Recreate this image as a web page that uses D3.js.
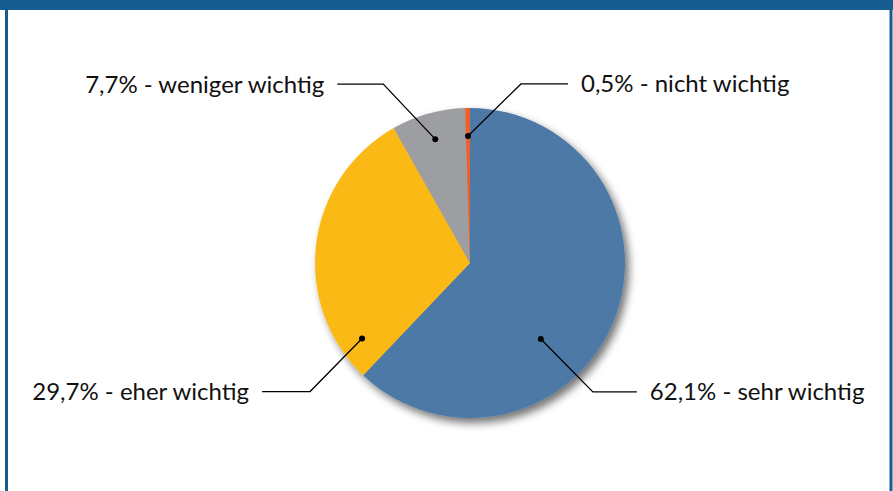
<!DOCTYPE html>
<html>
<head>
<meta charset="utf-8">
<script src="https://cdn.jsdelivr.net/npm/d3@7"></script>
<style>
  html, body { margin: 0; padding: 0; background: #fff; }
  svg { display: block; }
</style>
</head>
<body>
<div id="chart"></div>
<script>
// Datos del gráfico
const categorias = ["sehr wichtig", "eher wichtig", "weniger wichtig", "nicht wichtig"];
const valores = [62.1, 29.7, 7.7, 0.5];
const etiquetas = ["62,1%", "29,7%", "7,7%", "0,5%"];
const colores = ["#4e79a6", "#fbb918", "#9d9ea1", "#ef5f2b"];

const width = 893;
const height = 491;
const cx = 470, cy = 263, radius = 155;

// Posición de las etiquetas (ángulo en grados desde arriba, radio relativo)
const layoutEtiquetas = [
  { ang: 137, r: 0.67, dx: 52, dy: 53, len: 44, side: 1 },
  { ang: 235, r: 0.85, dx: -52, dy: 53, len: 48, side: -1 },
  { ang: null, r: 0.83, dx: -52, dy: -55, len: 46, side: -1 },
  { ang: null, r: 0.82, dx: 53, dy: -52, len: 47, side: 1 }
];

const data = categorias.map((c, i) => ({ cat: c, valor: valores[i], label: etiquetas[i], color: colores[i] }));

const svg = d3.select("#chart").append("svg")
  .attr("width", width)
  .attr("height", height);

// Marco
svg.append("rect")
  .attr("x", 6.5).attr("y", 0)
  .attr("width", width - 8.5).attr("height", height + 10)
  .attr("fill", "#fff")
  .attr("stroke", "#175c8f")
  .attr("stroke-width", 3);
svg.append("rect")
  .attr("x", 0).attr("y", 0)
  .attr("width", width).attr("height", 10)
  .attr("fill", "#175c8f");

const defs = svg.append("defs");
const filtro = defs.append("filter").attr("id", "sombra")
  .attr("x", "-20%").attr("y", "-20%").attr("width", "140%").attr("height", "140%");
filtro.append("feGaussianBlur").attr("in", "SourceAlpha").attr("stdDeviation", 4);
filtro.append("feOffset").attr("dx", 4).attr("dy", 5).attr("result", "off");
filtro.append("feComponentTransfer").append("feFuncA").attr("type", "linear").attr("slope", 0.55);
const merge = filtro.append("feMerge");
merge.append("feMergeNode");
merge.append("feMergeNode").attr("in", "SourceGraphic");

const g = svg.append("g").attr("transform", `translate(${cx},${cy})`);

const pie = d3.pie().sort(null).value(d => d.valor);
const arc = d3.arc().innerRadius(0).outerRadius(radius);
const arcs = pie(data);

g.append("g")
  .attr("filter", "url(#sombra)")
  .selectAll("path")
  .data(arcs)
  .enter()
  .append("path")
  .attr("d", arc)
  .attr("fill", d => d.data.color);

// Etiquetas con líneas guía
arcs.forEach((d, i) => {
  const l = layoutEtiquetas[i];
  const ang = l.ang !== null ? l.ang * Math.PI / 180 : (d.startAngle + d.endAngle) / 2;
  const px = Math.sin(ang) * radius * l.r;
  const py = -Math.cos(ang) * radius * l.r;
  const ex = px + l.dx, ey = py + l.dy;
  const hx = ex + l.side * l.len;

  g.append("polyline")
    .attr("points", `${px},${py} ${ex},${ey} ${hx},${ey}`)
    .attr("fill", "none")
    .attr("stroke", "#000")
    .attr("stroke-width", 1.3);

  g.append("circle")
    .attr("cx", px).attr("cy", py).attr("r", 3)
    .attr("fill", "#000");

  g.append("text")
    .attr("x", hx + l.side * 13)
    .attr("y", ey)
    .attr("dy", "0.35em")
    .attr("text-anchor", l.side > 0 ? "start" : "end")
    .style("font-family", "Lato, 'Open Sans', sans-serif")
    .style("font-size", "24px")
    .attr("fill", "#111")
    .text(`${d.data.label} - ${d.data.cat}`);
});
</script>
</body>
</html>
